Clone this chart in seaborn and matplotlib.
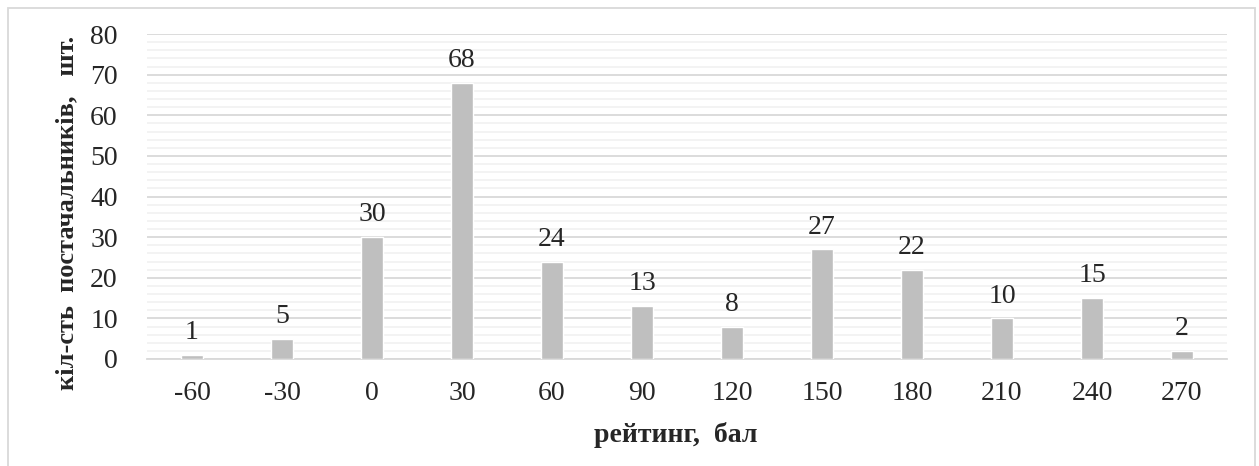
import matplotlib
matplotlib.use('Agg')
import matplotlib.pyplot as plt
import seaborn as sns
import pandas as pd
from matplotlib.patches import Rectangle
from matplotlib.ticker import MultipleLocator

# data
rating = ['-60', '-30', '0', '30', '60', '90', '120', '150', '180', '210', '240', '270']
count = [1, 5, 30, 68, 24, 13, 8, 27, 22, 10, 15, 2]

sns.set_style('white')
plt.rcParams['font.family'] = ['Liberation Serif', 'DejaVu Serif']

df = pd.DataFrame({'rating': rating, 'count': count})

fig = plt.figure(figsize=(12.59, 4.66), dpi=100)
ax = fig.add_axes([147 / 1259, 1 - 359 / 466, 1080 / 1259, 325 / 466])

sns.barplot(data=df, x='rating', y='count', order=rating, color='#BFBFBF',
            width=0.245, saturation=1, ax=ax, zorder=3)
ax.bar_label(ax.containers[0], padding=7, fontsize=20)

ax.set_ylim(0, 80)
ax.yaxis.set_major_locator(MultipleLocator(10))
ax.yaxis.set_minor_locator(MultipleLocator(2))
ax.grid(axis='y', which='major', color='#D9D9D9', lw=1.3, zorder=0)
ax.grid(axis='y', which='minor', color='#F2F2F2', lw=1.3, zorder=0)
ax.set_axisbelow(True)
for s in ['top', 'right', 'left']:
    ax.spines[s].set_visible(False)
ax.spines['bottom'].set_color('#D9D9D9')
ax.spines['bottom'].set_linewidth(1.3)

ax.tick_params(axis='y', which='both', length=0, pad=21, labelsize=20)
ax.tick_params(axis='x', length=0, pad=16, labelsize=20)

ax.set_xlabel('рейтинг,  бал', fontsize=20, fontweight='bold')
ax.set_ylabel('кіл-сть  постачальників,   шт.', fontsize=19, fontweight='bold')
ax.xaxis.set_label_coords(0.49, -0.195)
ax.yaxis.set_label_coords(-0.064, 0.45)

fig.patches.append(Rectangle((8 / 1259, -0.01), 1247 / 1259, 1 - 8 / 466 + 0.01,
                             transform=fig.transFigure, fill=False,
                             edgecolor='#D9D9D9', lw=1.3))

fig.savefig('out.png', dpi=100)
